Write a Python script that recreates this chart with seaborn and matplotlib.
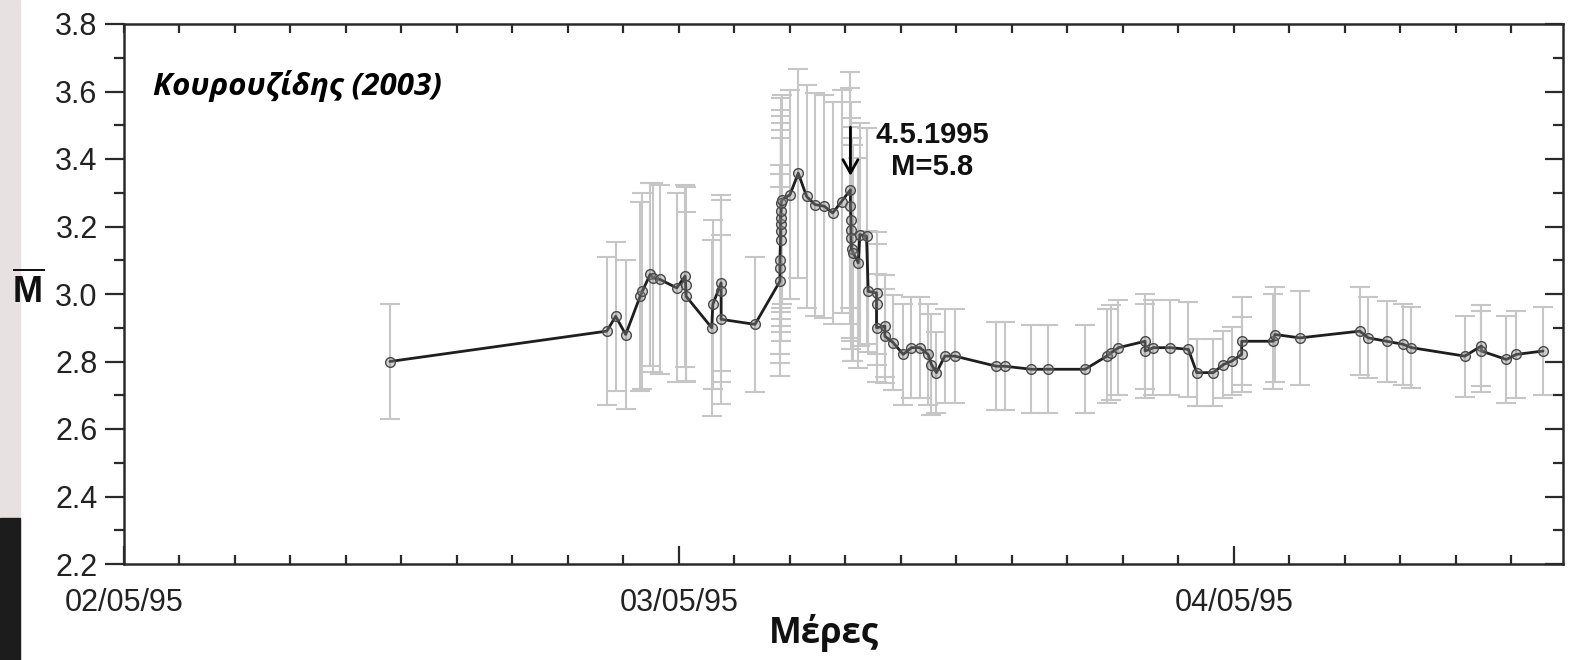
import numpy as np
import pandas as pd
import matplotlib
matplotlib.use("Agg")
import matplotlib.pyplot as plt
from matplotlib.ticker import MultipleLocator, FixedLocator, FixedFormatter
from matplotlib.patches import Rectangle
import seaborn as sns

# ---- data (time in days after 02/05/95 00:00) ----
t_days = [0.479, 0.870, 0.886, 0.904, 0.930, 0.934, 0.948, 0.953, 0.966, 0.996,
          1.011, 1.012, 1.013, 1.059, 1.061, 1.076, 1.076, 1.076, 1.137,
          1.182, 1.182, 1.182, 1.183, 1.183, 1.183, 1.183, 1.184, 1.184, 1.186,
          1.200, 1.215, 1.230, 1.245, 1.262, 1.277, 1.293,
          1.309, 1.309, 1.310, 1.310, 1.310, 1.311, 1.314, 1.323, 1.326, 1.338,
          1.341, 1.356, 1.356, 1.356, 1.371, 1.371, 1.386, 1.404, 1.419, 1.434,
          1.449, 1.455, 1.464, 1.479, 1.497, 1.572, 1.587, 1.635, 1.665, 1.732,
          1.771, 1.779, 1.792, 1.840, 1.840, 1.855, 1.885, 1.918, 1.933, 1.963,
          1.981, 1.996, 2.014, 2.014, 2.071, 2.074, 2.119, 2.227, 2.242, 2.275,
          2.305, 2.320, 2.416, 2.446, 2.446, 2.491, 2.509, 2.557]
m_mean = [2.800, 2.890, 2.934, 2.880, 2.993, 3.008, 3.058, 3.048, 3.043, 3.018,
          3.053, 3.028, 2.993, 2.900, 2.969, 3.033, 3.008, 2.925, 2.910,
          3.038, 3.077, 3.102, 3.161, 3.186, 3.206, 3.226, 3.246, 3.270, 3.280,
          3.294, 3.358, 3.289, 3.265, 3.260, 3.240, 3.274,
          3.309, 3.260, 3.220, 3.191, 3.166, 3.132, 3.122, 3.092, 3.176, 3.171,
          3.008, 3.003, 2.969, 2.900, 2.905, 2.875, 2.856, 2.821, 2.841, 2.841,
          2.821, 2.791, 2.767, 2.816, 2.816, 2.786, 2.786, 2.777, 2.777, 2.777,
          2.816, 2.826, 2.841, 2.860, 2.831, 2.841, 2.841, 2.836, 2.767, 2.767,
          2.791, 2.801, 2.821, 2.860, 2.860, 2.880, 2.870, 2.890, 2.870, 2.860,
          2.851, 2.841, 2.816, 2.846, 2.831, 2.806, 2.821, 2.831]
m_err = [0.17, 0.22, 0.22, 0.22, 0.28, 0.29, 0.27, 0.28, 0.28, 0.28,
         0.27, 0.29, 0.25, 0.26, 0.25, 0.26, 0.27, 0.25, 0.20,
         0.28, 0.28, 0.28, 0.30, 0.30, 0.30, 0.30, 0.30, 0.31, 0.31,
         0.31, 0.31, 0.33, 0.33, 0.33, 0.33, 0.33,
         0.35, 0.35, 0.35, 0.33, 0.33, 0.33, 0.32, 0.31, 0.33, 0.32,
         0.18, 0.18, 0.18, 0.16, 0.15, 0.14, 0.14, 0.15, 0.15, 0.15,
         0.15, 0.15, 0.12, 0.14, 0.14, 0.13, 0.13, 0.13, 0.13, 0.13,
         0.14, 0.14, 0.14, 0.14, 0.14, 0.14, 0.14, 0.14, 0.10, 0.10,
         0.10, 0.10, 0.11, 0.13, 0.14, 0.14, 0.14, 0.13, 0.12, 0.12,
         0.12, 0.12, 0.12, 0.12, 0.12, 0.13, 0.13, 0.13]
day_ticks = [0, 1, 2]
day_labels = ["02/05/95", "03/05/95", "04/05/95"]
event_label = "4.5.1995\nM=5.8"
event_index = 36
title_text = "Κουρουζίδης (2003)"
x_label = "Μέρες"

df = pd.DataFrame({"t": t_days, "m": m_mean, "err": m_err, "order": np.arange(len(t_days))})

sns.set_theme(style="ticks")
plt.rcParams["font.family"] = ["Liberation Sans", "DejaVu Sans"]
plt.rcParams["mathtext.fontset"] = "custom"
plt.rcParams["mathtext.bf"] = "Liberation Sans:bold"
plt.rcParams["mathtext.rm"] = "Liberation Sans"

fig = plt.figure(figsize=(15.71, 6.60), dpi=100)
ax = fig.add_axes([124 / 1571, 1 - 564 / 660, (1563 - 124) / 1571, (564 - 24) / 660])

# screenshot left strip
fig.add_artist(Rectangle((0, 1 - 518 / 660), 20 / 1571, 518 / 660, transform=fig.transFigure,
                         color="#e8e1e1", zorder=0))
fig.add_artist(Rectangle((0, 0), 20 / 1571, 142 / 660, transform=fig.transFigure,
                         color="#1c1c1c", zorder=0))

# error bars
ax.errorbar(df["t"], df["m"], yerr=df["err"], fmt="none", ecolor="#c6c6c6",
            elinewidth=1.5, capsize=7, capthick=1.5, zorder=1)

# mean line with markers
sns.lineplot(data=df, x="t", y="m", sort=False, estimator=None, ax=ax,
             color="#1e1e1e", linewidth=2.0, marker="o", markersize=7,
             markerfacecolor=(0.55, 0.55, 0.55, 0.4), markeredgecolor="#4a4a4a",
             markeredgewidth=1.0, zorder=3)

ax.set_xlim(0, 2.593)
ax.set_ylim(2.2, 3.8)

spine_c = "#2a2a2a"
for s in ax.spines.values():
    s.set_linewidth(1.8)
    s.set_color(spine_c)
    s.set_visible(True)

ax.xaxis.set_major_locator(FixedLocator(day_ticks))
ax.xaxis.set_major_formatter(FixedFormatter(day_labels))
ax.xaxis.set_minor_locator(MultipleLocator(0.1))
ax.yaxis.set_major_locator(MultipleLocator(0.2))
ax.yaxis.set_minor_locator(MultipleLocator(0.1))
ax.yaxis.set_major_formatter(matplotlib.ticker.FormatStrFormatter("%.1f"))

ax.tick_params(axis="y", which="major", direction="out", length=14, width=1.6,
               color=spine_c, labelsize=22, pad=5, labelcolor="#222222", left=True, right=False)
ax.tick_params(axis="y", which="minor", direction="out", length=7, width=1.6,
               color=spine_c, left=True, right=False)
ax.tick_params(axis="x", which="major", direction="in", length=13, width=1.6,
               color=spine_c, labelsize=22, pad=17.5, labelcolor="#222222", bottom=True, top=False)
ax.tick_params(axis="x", which="minor", direction="in", length=6.5, width=1.6,
               color=spine_c, bottom=True, top=False)

for lab in ax.get_xticklabels():
    lab.set_fontstretch("condensed")

# right spine ticks (inward)
axr = ax.twinx()
axr.set_ylim(ax.get_ylim())
axr.yaxis.set_major_locator(MultipleLocator(0.2))
axr.yaxis.set_minor_locator(MultipleLocator(0.1))
axr.tick_params(axis="y", which="major", direction="in", length=13, width=1.6, color=spine_c,
                labelright=False)
axr.tick_params(axis="y", which="minor", direction="in", length=7, width=1.6, color=spine_c)
for s in axr.spines.values():
    s.set_visible(False)

# top spine ticks (inward)
axt = ax.twiny()
axt.set_xlim(ax.get_xlim())
axt.xaxis.set_major_locator(MultipleLocator(0.1))
axt.tick_params(axis="x", which="major", direction="in", length=6.5, width=1.6, color=spine_c,
                labeltop=False)
for s in axt.spines.values():
    s.set_visible(False)

ax.set_ylabel("")
ax.set_xlabel(x_label, fontsize=25, fontweight="bold", family=["Open Sans", "DejaVu Sans"],
              color="#111111")
ax.xaxis.set_label_coords((824 - 124) / 1439, (564 - 633) / 540)
ax.xaxis.label.set_va("center")

fig.text(28 / 1571, 1 - 291 / 660, r"$\overline{\mathbf{M}}$", fontsize=26, ha="center",
         va="center", color="#111111")

ax.text(0.02, 0.885, title_text, transform=ax.transAxes, fontsize=22.5, fontweight="bold",
        fontstyle="italic", family=["Open Sans", "DejaVu Sans"], ha="left", va="center",
        color="black")

ex, ey = t_days[event_index], m_mean[event_index]
ax.annotate("", xy=(ex, ey), xycoords="data", xytext=(0, 45), textcoords="offset points",
            arrowprops=dict(arrowstyle="->,head_length=0.8,head_width=0.45", color="black",
                            lw=2, shrinkA=0, shrinkB=10), zorder=5)
ax.annotate(event_label, xy=(ex, ey), xycoords="data", xytext=(59, 28),
            textcoords="offset points", ha="center", va="center", fontsize=21,
            fontweight="bold", color="#111111", linespacing=1.2)

fig.savefig("out.png", dpi=100)
